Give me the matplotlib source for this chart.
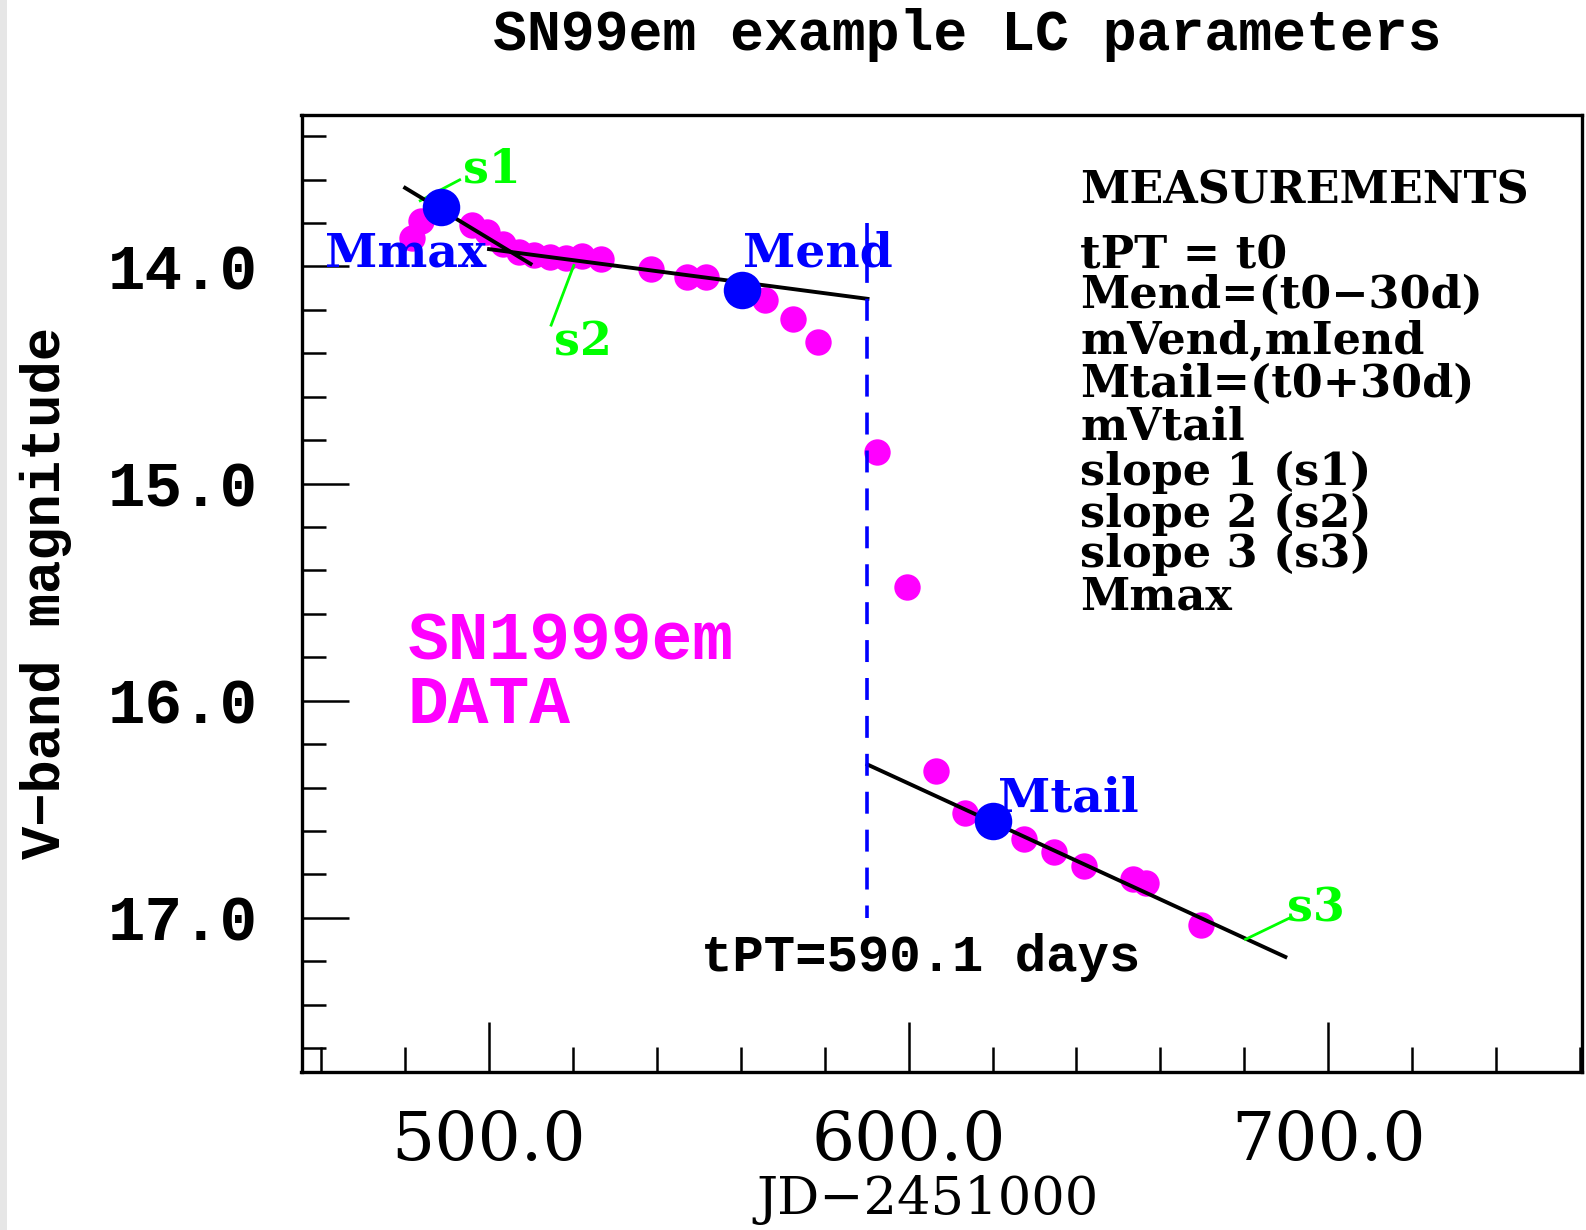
import matplotlib
matplotlib.use("Agg")
import matplotlib.pyplot as plt
from matplotlib.patches import Rectangle
from matplotlib.ticker import MultipleLocator

# ---------------- data ----------------
jd_data = [481.6, 483.8, 496.0, 499.5, 503.3, 507.1, 510.8, 514.6, 518.3, 522.1,
           526.8, 538.5, 547.3, 551.8, 565.8, 572.4, 578.5, 592.5, 599.5,
           606.5, 613.4, 627.6, 634.6, 641.7, 653.4, 656.5, 669.8]
mag_data = [13.87, 13.79, 13.807, 13.842, 13.896, 13.934, 13.949, 13.957, 13.960, 13.954,
            13.965, 14.01, 14.048, 14.048, 14.153, 14.24, 14.35, 14.854, 15.477,
            16.325, 16.517, 16.639, 16.696, 16.759, 16.82, 16.839, 17.034]

key_names = ["Mmax", "Mend", "Mtail"]
key_jd = [488.5, 560.2, 620.1]
key_mag = [13.724, 14.107, 16.555]

s1_jd = [480.0, 509.9]
s1_mag = [13.638, 13.988]
s2_jd = [500.0, 590.2]
s2_mag = [13.92, 14.149]
s3_jd = [590.2, 689.8]
s3_mag = [16.294, 17.18]

t_pt = 590.1
t_pt_mag_range = [13.8, 17.0]

xtick_vals = [500, 600, 700]
xtick_labels = ["500.0", "600.0", "700.0"]
ytick_vals = [14, 15, 16, 17]
ytick_labels = ["14.0", "15.0", "16.0", "17.0"]

measure_lines = ["MEASUREMENTS", "tPT = t0", "Mend=(t0\u221230d)", "mVend,mIend",
                 "Mtail=(t0+30d)", "mVtail", "slope 1 (s1)", "slope 2 (s2)",
                 "slope 3 (s3)", "Mmax"]

# ---------------- layout ----------------
W, H = 1586, 1230
plt.rcParams["lines.scale_dashes"] = False
fig = plt.figure(figsize=(W / 100, H / 100), dpi=100)
fig.patches.append(Rectangle((0, 0), 7 / W, 1, transform=fig.transFigure,
                             facecolor="#e6e6e6", edgecolor="none"))

ax_l, ax_r, ax_t, ax_b = 301.5, 1582, 114.5, 1072
ax = fig.add_axes([ax_l / W, 1 - ax_b / H, (ax_r - ax_l) / W, (ax_b - ax_t) / H])
ax.set_xlim(455.3, 760.5)
ax.set_ylim(17.71, 13.30)

for sp in ax.spines.values():
    sp.set_linewidth(2.4)

MAG = "#ff00ff"
BLUE = "#0000ff"
GREEN = "#00ff00"

ax.plot(jd_data, mag_data, "o", color=MAG, ms=19, mec="none", zorder=2)
ax.plot(s1_jd, s1_mag, color="black", lw=2.8, zorder=3)
ax.plot(s2_jd, s2_mag, color="black", lw=2.8, zorder=3)
ax.plot(s3_jd, s3_mag, color="black", lw=2.8, zorder=3)
ax.plot([t_pt, t_pt], t_pt_mag_range, color=BLUE, lw=2.6, dashes=(15.8, 11.5), zorder=3)

# green leader lines + labels
ax.plot([483.6, 493.0], [13.697, 13.601], color=GREEN, lw=2.0, zorder=2.5)
ax.plot([520.2, 514.8], [13.995, 14.27], color=GREEN, lw=2.0, zorder=4)
ax.plot([680.3, 691.0], [17.099, 16.999], color=GREEN, lw=2.0, zorder=4)
gfont = dict(family="DejaVu Serif", weight="bold", size=33, color=GREEN)
ax.text(493.9, 13.612, "s1", ha="left", va="baseline", **gfont)
ax.text(515.5, 14.409, "s2", ha="left", va="baseline", **gfont)
ax.text(690.2, 17.016, "s3", ha="left", va="baseline", **gfont)

ax.plot(key_jd, key_mag, "o", color=BLUE, ms=27, mec="none", zorder=5)
bfont = dict(family="DejaVu Serif", weight="bold", size=34, color=BLUE)
label_pos = [(461.0, 14.0), (560.6, 14.0), (621.3, 16.509)]
for name, (lx, ly) in zip(key_names, label_pos):
    ax.text(lx, ly, name, ha="left", va="baseline", zorder=6, **bfont)

mfont = dict(family="Liberation Mono", weight="bold", size=49, color=MAG)
ax.text(480.6, 15.811, "SN1999em", ha="left", va="baseline", **mfont)
ax.text(480.6, 16.103, "DATA", ha="left", va="baseline", **mfont)

ax.text(550.4, 17.245, "tPT=%.1f days" % t_pt, ha="left", va="baseline",
        family="Liberation Mono", weight="bold", size=37.7, color="black")

# ticks
ax.set_xticks(xtick_vals, labels=xtick_labels, family="DejaVu Serif", size=49)
ax.set_yticks(ytick_vals, labels=ytick_labels, family="Liberation Mono",
              weight="bold", size=45)
ax.xaxis.set_minor_locator(MultipleLocator(20))
ax.yaxis.set_minor_locator(MultipleLocator(0.2))
ax.tick_params(axis="x", which="major", direction="in", length=36, width=1.8, pad=26.6)
ax.tick_params(axis="x", which="minor", direction="in", length=18, width=1.8)
ax.tick_params(axis="y", which="major", direction="in", length=34, width=1.8, pad=31.3)
ax.tick_params(axis="y", which="minor", direction="in", length=17, width=1.8)
ax.tick_params(top=False, right=False, which="both")

# axis labels / title
fig.text(927 / W, 1 - 1214 / H, "JD\u22122451000", ha="center", va="baseline",
         family="DejaVu Serif", size=38)
fig.text(45.5 / W, 1 - 593 / H, "V\u2212band magnitude", ha="center", va="center",
         rotation=90, family="Liberation Mono", weight="bold", size=40)
fig.text(966.8 / W, 1 - 50 / H, "SN99em example LC parameters", ha="center",
         va="baseline", family="Liberation Mono", weight="bold", size=40.7)

meas_baselines = [203.3, 268.3, 308.3, 353.3, 396.7, 440, 485, 526.7, 566.7, 610]
for txt, yb in zip(measure_lines, meas_baselines):
    fig.text(1080 / W, 1 - yb / H, txt, ha="left", va="baseline",
             family="DejaVu Serif", weight="bold", size=32)

fig.savefig("out.png", dpi=100)
